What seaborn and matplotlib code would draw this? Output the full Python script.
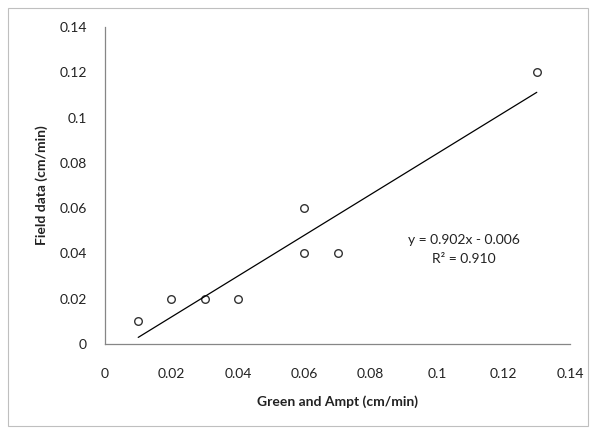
import matplotlib
matplotlib.use("Agg")
import matplotlib.pyplot as plt
import seaborn as sns
import pandas as pd
from matplotlib.patches import Rectangle

green_ampt = [0.01, 0.02, 0.03, 0.04, 0.06, 0.06, 0.07, 0.13]
field_data = [0.01, 0.02, 0.02, 0.02, 0.06, 0.04, 0.04, 0.12]
ticks = [0, 0.02, 0.04, 0.06, 0.08, 0.1, 0.12, 0.14]
tick_labels = ["0", "0.02", "0.04", "0.06", "0.08", "0.1", "0.12", "0.14"]

df = pd.DataFrame({"x": green_ampt, "y": field_data})

sns.set_style("white")
plt.rcParams['font.family'] = ['Lato', 'DejaVu Sans']

fig = plt.figure(figsize=(5.91, 4.32), dpi=100)
ax = fig.add_axes([105/591, 1 - 344/432, (570-105)/591, (344-27)/432])

sns.regplot(data=df, x="x", y="y", ax=ax, ci=None, truncate=True,
            scatter_kws=dict(s=30, facecolors="white", edgecolors="black", linewidths=1.0),
            line_kws=dict(color="black", linewidth=0.9))

ax.set_xlim(0, 0.14)
ax.set_ylim(0, 0.14)
ax.set_xticks(ticks)
ax.set_xticklabels(tick_labels)
ax.set_yticks(ticks)
ax.set_yticklabels(tick_labels)

for s in ["top", "right"]:
    ax.spines[s].set_visible(False)
for s in ["left", "bottom"]:
    ax.spines[s].set_color("#868686")
    ax.spines[s].set_linewidth(0.9)
ax.tick_params(axis="both", direction="out", length=5, width=0.9, color="#868686",
               labelsize=10, labelcolor="#222222")
ax.tick_params(axis="x", pad=12)
ax.tick_params(axis="y", pad=8)

ax.set_xlabel("Green and Ampt (cm/min)", fontsize=10, fontweight="bold", color="#222222", labelpad=11)
ax.set_ylabel("Field data (cm/min)", fontsize=10, fontweight="bold", color="#222222", labelpad=8)

ax.text(0.108, 0.0459, "y = 0.902x - 0.006", ha="center", va="center", fontsize=10, color="#222222")
ax.text(0.108, 0.0375, "R² = 0.910", ha="center", va="center", fontsize=10, color="#222222")

fig.patches.append(Rectangle((8/591, 1 - 426/432), (588-8)/591, (426-8)/432,
                             transform=fig.transFigure, fill=False,
                             edgecolor="#bfbfbf", linewidth=0.8))

fig.savefig("out.png", dpi=100)
